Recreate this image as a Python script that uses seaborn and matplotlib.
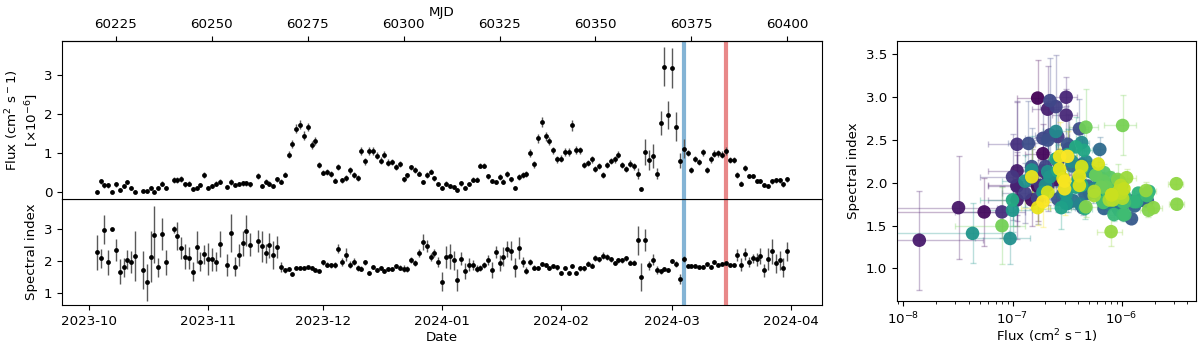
import numpy as np
import pandas as pd
import matplotlib
matplotlib.use('Agg')
import matplotlib.pyplot as plt
import matplotlib.dates as mdates
from matplotlib.colors import Normalize
import seaborn as sns

# daily light-curve bins (MJD), flux in 1e-6 cm^-2 s^-1
mjd = [60220, 60221, 60222, 60223, 60224, 60225, 60226, 60227, 60228, 60229,
       60230, 60232, 60233, 60234, 60235, 60236, 60237, 60238, 60240, 60241,
       60242, 60243, 60244, 60245, 60246, 60247, 60248, 60249, 60250, 60251,
       60252, 60254, 60255, 60256, 60257, 60258, 60259, 60260, 60262, 60263,
       60264, 60265, 60266, 60267, 60268, 60269, 60270, 60271, 60272, 60273,
       60274, 60275, 60276, 60277, 60278, 60279, 60280, 60281, 60282, 60283,
       60284, 60285, 60286, 60287, 60288, 60289, 60290, 60291, 60292, 60293,
       60294, 60295, 60296, 60297, 60298, 60299, 60300, 60301, 60302, 60303,
       60304, 60305, 60306, 60307, 60308, 60309, 60310, 60311, 60312, 60313,
       60314, 60315, 60316, 60317, 60318, 60319, 60320, 60321, 60322, 60323,
       60324, 60325, 60326, 60327, 60328, 60329, 60330, 60331, 60332, 60333,
       60334, 60335, 60336, 60337, 60338, 60339, 60340, 60341, 60342, 60343,
       60344, 60345, 60346, 60347, 60348, 60349, 60350, 60351, 60352, 60353,
       60354, 60355, 60356, 60357, 60358, 60359, 60360, 60361, 60362, 60363,
       60364, 60365, 60366, 60367, 60368, 60369, 60370, 60371, 60372, 60373,
       60374, 60375, 60376, 60377, 60378, 60379, 60380, 60381, 60382, 60383,
       60384, 60385, 60386, 60387, 60388, 60389, 60390, 60391, 60392, 60393,
       60394, 60395, 60396, 60397, 60398, 60399, 60400]

flux = [0.00, 0.27, 0.17, 0.17, 0.00, 0.19, 0.055, 0.15, 0.25, 0.11,
        0.00, 0.032, 0.014, 0.11, 0.00, 0.11, 0.21, 0.11, 0.31, 0.31,
        0.33, 0.19, 0.21, 0.08, 0.11, 0.18, 0.43, 0.10, 0.15, 0.21,
        0.26, 0.13, 0.25, 0.17, 0.20, 0.22, 0.22, 0.19, 0.41, 0.14,
        0.26, 0.21, 0.15, 0.32, 0.26, 0.44, 0.95, 1.23, 1.62, 1.72,
        1.44, 1.66, 1.19, 1.31, 0.69, 0.49, 0.51, 0.46, 0.29, 0.63,
        0.30, 0.35, 0.55, 0.43, 0.36, 1.05, 0.78, 1.04, 1.04, 0.92,
        0.80, 0.95, 0.75, 0.77, 0.64, 0.72, 0.32, 0.42, 0.63, 0.56,
        0.47, 0.25, 0.43, 0.52, 0.35, 0.20, 0.095, 0.21, 0.15, 0.13,
        0.043, 0.22, 0.10, 0.19, 0.31, 0.31, 0.67, 0.67, 0.40, 0.28,
        0.25, 0.38, 0.26, 0.45, 0.32, 0.10, 0.38, 0.43, 0.46, 1.00,
        0.71, 1.37, 1.78, 1.42, 1.30, 1.06, 0.83, 0.85, 1.02, 1.03,
        1.71, 1.07, 1.06, 0.68, 0.74, 0.84, 0.58, 0.66, 0.43, 0.69,
        0.79, 0.84, 0.95, 0.68, 0.58, 0.72, 0.65, 0.47, 0.08, 1.02,
        0.81, 0.92, 0.47, 1.76, 3.20, 1.96, 3.17, 1.67, 0.80, 1.11,
        0.99, 0.56, 0.84, 0.77, 1.02, 0.56, 0.83, 0.98, 0.99, 0.95,
        1.05, 0.81, 0.81, 0.43, 0.21, 0.61, 0.41, 0.41, 0.29, 0.27,
        0.17, 0.15, 0.27, 0.30, 0.30, 0.19, 0.32]

flux_err = [0.05, 0.07, 0.06, 0.06, 0.04, 0.06, 0.05, 0.05, 0.06, 0.05,
            0.04, 0.04, 0.04, 0.05, 0.04, 0.05, 0.06, 0.05, 0.08, 0.08,
            0.08, 0.06, 0.06, 0.05, 0.05, 0.06, 0.08, 0.05, 0.05, 0.06,
            0.07, 0.05, 0.07, 0.05, 0.06, 0.06, 0.06, 0.06, 0.08, 0.05,
            0.06, 0.06, 0.05, 0.07, 0.06, 0.07, 0.09, 0.10, 0.11, 0.12,
            0.11, 0.11, 0.10, 0.10, 0.08, 0.07, 0.07, 0.07, 0.06, 0.08,
            0.06, 0.07, 0.08, 0.07, 0.07, 0.10, 0.09, 0.10, 0.10, 0.09,
            0.09, 0.09, 0.08, 0.08, 0.08, 0.08, 0.06, 0.07, 0.07, 0.07,
            0.07, 0.06, 0.07, 0.07, 0.06, 0.05, 0.05, 0.06, 0.05, 0.05,
            0.05, 0.06, 0.05, 0.05, 0.06, 0.06, 0.07, 0.07, 0.07, 0.06,
            0.06, 0.07, 0.06, 0.08, 0.07, 0.05, 0.07, 0.07, 0.07, 0.10,
            0.09, 0.11, 0.13, 0.11, 0.10, 0.10, 0.09, 0.09, 0.10, 0.10,
            0.14, 0.10, 0.10, 0.08, 0.08, 0.09, 0.08, 0.08, 0.08, 0.08,
            0.08, 0.09, 0.09, 0.08, 0.08, 0.09, 0.09, 0.14, 0.05, 0.33,
            0.25, 0.30, 0.13, 0.30, 0.50, 0.36, 0.50, 0.38, 0.20, 0.25,
            0.08, 0.07, 0.08, 0.08, 0.09, 0.08, 0.08, 0.09, 0.09, 0.09,
            0.10, 0.08, 0.08, 0.08, 0.06, 0.07, 0.06, 0.06, 0.05, 0.05,
            0.05, 0.05, 0.06, 0.06, 0.06, 0.06, 0.07]

index = [2.28, 2.09, 2.99, 1.96, 3.00, 2.34, 1.66, 1.80, 2.04, 1.97,
         2.16, 1.71, 1.33, 2.14, 2.83, 1.80, 2.86, 1.96, 3.00, 2.79,
         2.40, 2.14, 2.09, 1.66, 2.45, 1.97, 2.21, 2.07, 2.05, 1.97,
         2.54, 1.88, 2.89, 1.82, 2.19, 2.56, 2.96, 2.52, 2.63, 2.46,
         2.25, 2.50, 2.19, 2.45, 1.81, 1.71, 1.74, 1.58, 1.79, 1.79,
         1.79, 1.80, 1.79, 1.73, 1.70, 1.96, 1.88, 1.87, 1.87, 2.39,
         1.96, 2.20, 1.89, 1.98, 1.79, 1.76, 1.96, 1.63, 1.82, 1.71,
         1.79, 1.68, 1.76, 1.76, 1.85, 1.79, 1.76, 1.75, 2.03, 1.93,
         2.25, 2.60, 2.47, 2.13, 2.25, 1.97, 1.35, 2.13, 2.15, 2.02,
         1.41, 2.07, 1.68, 1.89, 1.87, 1.76, 1.79, 1.87, 2.04, 1.71,
         2.28, 1.95, 2.14, 2.38, 2.33, 1.80, 2.42, 1.97, 1.70, 1.97,
         1.79, 1.78, 1.90, 1.88, 1.78, 1.85, 1.80, 1.63, 1.78, 1.63,
         1.85, 1.63, 1.77, 1.77, 1.91, 1.85, 2.09, 2.05, 2.17, 2.12,
         2.06, 1.93, 2.02, 2.02, 2.09, 1.95, 1.95, 2.65, 1.50, 2.67,
         1.86, 2.04, 1.72, 1.68, 1.75, 1.71, 1.99, 1.91, 1.43, 2.06,
         1.85, 1.85, 1.85, 1.80, 1.82, 1.90, 1.80, 1.97, 1.88, 1.91,
         1.93, 1.86, 1.86, 2.19, 1.89, 2.22, 1.97, 2.08, 2.05, 2.16,
         1.71, 2.07, 2.31, 1.93, 2.02, 1.78, 2.31]

index_err = [0.55, 0.30, 0.45, 0.40, 0.05, 0.35, 0.40, 0.30, 0.30, 0.35,
             0.80, 0.60, 0.58, 0.80, 0.90, 0.30, 0.50, 0.40, 0.10, 0.45,
             0.35, 0.40, 0.35, 0.30, 0.50, 0.30, 0.30, 0.50, 0.35, 0.30,
             0.40, 0.35, 0.60, 0.30, 0.35, 0.40, 0.50, 0.35, 0.35, 0.50,
             0.30, 0.40, 0.45, 0.35, 0.15, 0.08, 0.07, 0.05, 0.04, 0.04,
             0.04, 0.04, 0.04, 0.04, 0.05, 0.08, 0.08, 0.08, 0.10, 0.15,
             0.12, 0.20, 0.12, 0.10, 0.10, 0.08, 0.08, 0.06, 0.06, 0.06,
             0.06, 0.06, 0.06, 0.06, 0.07, 0.07, 0.10, 0.10, 0.10, 0.10,
             0.12, 0.25, 0.20, 0.12, 0.12, 0.15, 0.30, 0.35, 0.40, 0.30,
             0.35, 0.20, 0.25, 0.20, 0.15, 0.10, 0.10, 0.10, 0.15, 0.25,
             0.20, 0.25, 0.30, 0.25, 0.30, 0.30, 0.35, 0.15, 0.12, 0.10,
             0.08, 0.06, 0.06, 0.06, 0.06, 0.06, 0.07, 0.07, 0.07, 0.07,
             0.07, 0.07, 0.07, 0.07, 0.08, 0.08, 0.10, 0.08, 0.12, 0.10,
             0.08, 0.07, 0.07, 0.08, 0.08, 0.09, 0.09, 0.45, 0.45, 0.35,
             0.15, 0.18, 0.12, 0.08, 0.06, 0.06, 0.06, 0.10, 0.17, 0.10,
             0.05, 0.05, 0.05, 0.05, 0.05, 0.05, 0.05, 0.05, 0.05, 0.05,
             0.05, 0.06, 0.06, 0.20, 0.20, 0.20, 0.15, 0.15, 0.20, 0.25,
             0.20, 0.35, 0.40, 0.30, 0.30, 0.30, 0.30]

mjd_ticks = [60225, 60250, 60275, 60300, 60325, 60350, 60375, 60400]
mark_blue = 60373.1
mark_red = 60384.1

MJD_UNIX = 40587  # MJD of 1970-01-01, matplotlib date epoch

df = pd.DataFrame({'mjd': mjd, 'flux': flux, 'flux_err': flux_err,
                   'index': index, 'index_err': index_err})
df['date'] = pd.to_datetime(df['mjd'] - MJD_UNIX, unit='D')
df['flux_cgs'] = df['flux'] * 1e-6
df['flux_err_cgs'] = df['flux_err'] * 1e-6

plt.rcParams['font.size'] = 9.6

fig = plt.figure(figsize=(12, 3.47), dpi=100)
ax_idx = fig.add_axes([0.0519, 0.1210, 0.6329, 0.3046])
ax_flux = fig.add_axes([0.0519, 0.4256, 0.6329, 0.4562], sharex=ax_idx)
ax_sc = fig.add_axes([0.7473, 0.1326, 0.2494, 0.7501])

# light curve
ax_flux.errorbar(df['date'], df['flux'], yerr=df['flux_err'], fmt='none',
                 ecolor='0.35', elinewidth=1, zorder=1)
sns.scatterplot(data=df, x='date', y='flux', color='k', s=12, linewidth=0,
                ax=ax_flux, zorder=2)
ax_idx.errorbar(df['date'], df['index'], yerr=df['index_err'], fmt='none',
                ecolor='0.35', elinewidth=1, zorder=1)
sns.scatterplot(data=df, x='date', y='index', color='k', s=12, linewidth=0,
                ax=ax_idx, zorder=2)

for ax in (ax_flux, ax_idx):
    ax.axvline(mark_blue - MJD_UNIX, color='tab:blue', alpha=0.55, lw=3, zorder=0)
    ax.axvline(mark_red - MJD_UNIX, color='tab:red', alpha=0.55, lw=3, zorder=0)

ax_idx.set_xlim(60211 - MJD_UNIX, 60409 - MJD_UNIX)
ax_idx.xaxis.set_major_locator(mdates.MonthLocator())
ax_idx.xaxis.set_major_formatter(mdates.DateFormatter('%Y-%m'))
ax_idx.set_ylim(0.61, 3.95)
ax_idx.set_yticks([1, 2, 3])
ax_idx.set_xlabel('Date', labelpad=2)
ax_idx.set_ylabel('Spectral index')

ax_flux.set_ylim(-0.19, 3.86)
ax_flux.set_yticks([0, 1, 2, 3])
ax_flux.tick_params(axis='x', bottom=False, labelbottom=False)
ax_flux.set_xlabel('')
ax_flux.set_ylabel('Flux (cm$^2$ s$^-$1)\n[×10$^{-6}$]', labelpad=2)

top = ax_flux.secondary_xaxis('top', functions=(lambda x: x + MJD_UNIX,
                                                 lambda x: x - MJD_UNIX))
top.set_xticks(mjd_ticks)
top.set_xlabel('MJD', labelpad=2)

# flux vs index
pos = df[df['flux'] > 0]
norm = Normalize(pos['mjd'].min(), pos['mjd'].max())
cmap = plt.get_cmap('viridis')
for _, r in pos.iterrows():
    ax_sc.errorbar(r['flux_cgs'], r['index'], xerr=r['flux_err_cgs'],
                   yerr=r['index_err'], fmt='none', ecolor=cmap(norm(r['mjd'])),
                   alpha=0.3, elinewidth=1, capsize=2, zorder=1)
sns.scatterplot(data=pos, x='flux_cgs', y='index', hue='mjd', palette='viridis',
                hue_norm=(pos['mjd'].min(), pos['mjd'].max()), s=95,
                linewidth=0, alpha=0.95, legend=False, ax=ax_sc, zorder=2)
ax_sc.set_xscale('log')
ax_sc.set_xlim(8.7e-9, 4.8e-6)
ax_sc.set_ylim(0.62, 3.66)
ax_sc.set_yticks([1.0, 1.5, 2.0, 2.5, 3.0, 3.5])
ax_sc.set_xlabel('Flux (cm$^2$ s$^-$1)', labelpad=0)
ax_sc.set_ylabel('Spectral index')

fig.savefig('out.png', dpi=100)
